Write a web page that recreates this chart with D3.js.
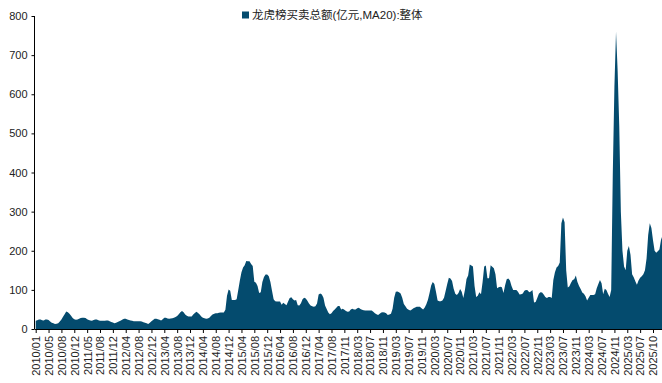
<!DOCTYPE html>
<html>
<head>
<meta charset="utf-8">
<script src="https://cdn.jsdelivr.net/npm/d3@7"></script>
<style>
  body { margin: 0; background: #fff; }
  svg { display: block; }
  .axis text { font-family: "Liberation Sans", Arial, sans-serif; font-size: 11px; fill: #222; }
  .axis line, .axis path { stroke: #000; }
</style>
</head>
<body>
<svg id="chart" width="662" height="383"></svg>
<script>
// Dragon-Tiger list total turnover (100m CNY), 20-day moving average
const seriesName = "龙虎榜买卖总额(亿元,MA20):整体";

// Axis labels: one every 80 trading days
const tickLabels = [
  "2010/01","2010/05","2010/08","2010/12","2011/05","2011/08","2011/12",
  "2012/04","2012/08","2012/12","2013/04","2013/08","2013/12","2014/04",
  "2014/08","2014/12","2015/04","2015/08","2015/12","2016/04","2016/08",
  "2016/12","2017/04","2017/08","2017/11","2018/03","2018/07","2018/11",
  "2019/03","2019/07","2019/11","2020/03","2020/07","2020/11","2021/03",
  "2021/07","2021/11","2022/03","2022/07","2022/11","2023/03","2023/07",
  "2023/11","2024/03","2024/07","2024/11","2025/03","2025/07","2025/10"
];

// Observations sampled every 10 trading days (8 per labelled interval)
const samplesPerTick = 8;

const turnoverMA20 = [
  21, 22.5, 24, 24.5, 22.5, 21.5, 24, 24.5,
  23, 19, 16, 14.5, 13, 13.5, 14.5, 19,
  24.5, 31, 38, 44.5, 43, 39, 34, 28,
  25, 23.5, 24, 26, 28, 29, 29, 28,
  25, 23, 22, 21, 23, 24.5, 24, 22.5,
  21, 21, 21, 21, 22, 22, 19.5, 18,
  16.5, 15, 16, 18, 20, 22, 24, 26,
  26, 24, 23, 22, 21, 20, 20, 20,
  20, 20, 19, 17.5, 16, 14.5, 13, 16,
  19.5, 23, 26.5, 26, 25, 23.5, 21.5, 25,
  29, 28.5, 27, 26.5, 27, 27.5, 29, 30.5,
  33, 38, 43, 46, 43, 37, 34, 32,
  32, 32, 37, 41, 44, 41, 37, 32,
  29, 27.5, 26.5, 27, 29, 33, 37, 39,
  40, 40.5, 41.5, 42, 42, 42, 49, 85,
  101, 98, 74, 74, 74, 76, 100, 124,
  145, 157, 163, 174, 173, 173, 166, 161,
  121, 118, 110, 92, 94, 120, 133, 139,
  139, 135, 120, 98, 76, 71, 70, 70,
  70, 62, 67, 64, 61, 70, 79, 81,
  76, 73, 74, 61, 60, 66, 76, 80,
  78, 72, 65, 60, 58, 57, 58, 65,
  88, 91, 88, 80, 60, 51, 42, 38,
  40, 46, 50, 54, 59, 59, 50, 52,
  49, 46, 44, 45, 50, 52, 50, 50,
  53, 54, 51, 49, 48, 47, 47, 47,
  47, 47, 44, 40, 38, 36, 39, 42,
  43, 42, 40, 36, 37, 39, 52, 80,
  95, 96, 94, 91, 80, 64, 58, 52,
  49, 47, 50, 53, 55, 57, 57, 57,
  53, 50, 55, 63, 75, 92, 111, 120,
  115, 95, 73, 71, 71, 73, 80, 97,
  115, 131, 129, 123, 103, 90, 87, 92,
  102, 95, 79, 100, 128, 137, 165, 162,
  160, 110, 82, 85, 94, 89, 120, 160,
  162, 130, 130, 163, 159, 155, 140, 104,
  107, 108, 107, 92, 112, 127, 129, 124,
  110, 100, 100, 100, 95, 88, 89, 91,
  98, 100, 99, 94, 96, 100, 68, 69,
  79, 90, 94, 93, 88, 82, 79, 82,
  82, 79, 125, 145, 157, 161, 170, 270,
  285, 273, 150, 106, 109, 118, 125, 127,
  137, 120, 110, 102, 93, 90, 84, 73,
  80, 87, 87, 87, 89, 104, 115, 125,
  117, 89, 103, 100, 90, 82, 100, 400,
  620, 760, 660, 520, 300, 200, 160, 150,
  200, 212, 190, 140, 132, 122, 113, 124,
  131, 135, 140, 150, 180, 240, 270, 258,
  227, 200, 195, 199, 203, 228, 240
];

const yTicks = [0, 100, 200, 300, 400, 500, 600, 700, 800];

const W = 662, H = 383;
const plot = { left: 34.5, right: 662, top: 16, bottom: 329 };
const fillColor = "#044b6e";

const svg = d3.select("#chart");

const lastTick = samplesPerTick * (tickLabels.length - 1);
const x = d3.scaleLinear().domain([0, lastTick]).range([35.7, 653]);
const y = d3.scaleLinear().domain([0, 800]).range([plot.bottom, plot.top]);

svg.append("defs").append("clipPath").attr("id", "plot-clip")
  .append("rect")
  .attr("x", plot.left).attr("y", 0)
  .attr("width", plot.right - plot.left).attr("height", plot.bottom);

// Filled area
const area = d3.area()
  .x((d, i) => x(i))
  .y0(y(0))
  .y1(d => y(d))
  .curve(d3.curveLinear);

svg.append("path")
  .datum(turnoverMA20)
  .attr("clip-path", "url(#plot-clip)")
  .attr("fill", fillColor)
  .attr("d", area);

// Y axis
const yAxis = svg.append("g")
  .attr("class", "axis")
  .attr("transform", `translate(${plot.left},0)`)
  .call(d3.axisLeft(y).tickValues(yTicks).tickSize(3).tickPadding(4));
yAxis.select(".domain").remove();
yAxis.append("line")
  .attr("x1", 0).attr("x2", 0)
  .attr("y1", plot.top).attr("y2", plot.bottom)
  .attr("stroke", "#000");

// X axis
const xAxis = svg.append("g")
  .attr("class", "axis")
  .attr("transform", `translate(0,${plot.bottom})`)
  .call(d3.axisBottom(x)
    .tickValues(d3.range(tickLabels.length).map(i => i * samplesPerTick))
    .tickFormat((d, i) => tickLabels[i])
    .tickSize(4));
xAxis.select(".domain").remove();
xAxis.append("line")
  .attr("x1", plot.left).attr("x2", plot.right)
  .attr("y1", 0.5).attr("y2", 0.5)
  .attr("stroke", "#000");
xAxis.selectAll(".tick text")
  .attr("transform", "rotate(-90)")
  .attr("text-anchor", "end")
  .attr("x", -7)
  .attr("y", 0)
  .attr("dy", "0.35em");

// Legend
const legend = svg.append("g").attr("transform", "translate(242,10)");
legend.append("rect")
  .attr("x", 0).attr("y", 1.5)
  .attr("width", 7).attr("height", 7)
  .attr("fill", fillColor);
legend.append("text")
  .attr("x", 10).attr("y", 5)
  .attr("dy", "0.35em")
  .style("font-family", "'Liberation Sans', 'Noto Sans CJK SC', sans-serif")
  .style("font-size", "11.5px")
  .style("fill", "#222")
  .text(seriesName);
</script>
</body>
</html>
